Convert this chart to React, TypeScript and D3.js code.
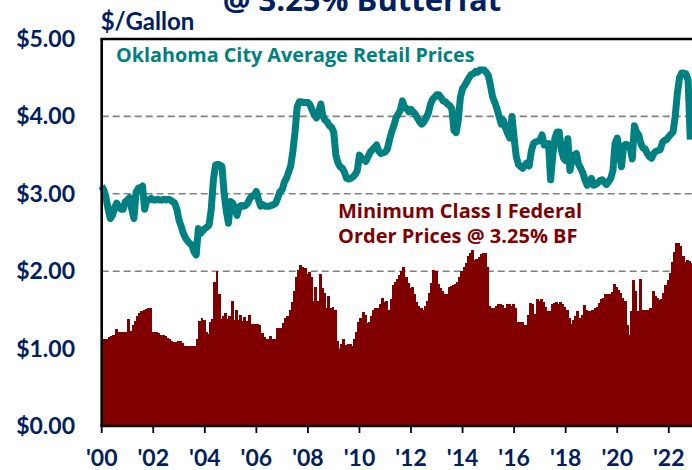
import * as d3 from 'd3';
import { useRef, useEffect } from 'react';

// months counted from Jan 2000
const yearTicks = [2000, 2002, 2004, 2006, 2008, 2010, 2012, 2014, 2016, 2018, 2020, 2022];
const priceTicks = [0, 1, 2, 3, 4, 5];
const gridPrices = [1, 2, 3, 4];

// Minimum Class I Federal Order price @ 3.25% BF, $/gallon, monthly
const classIPrices = [
    1.12, 1.12, 1.12, 1.15, 1.16, 1.18, 1.25, 1.22, 1.21, 1.21, 1.21, 1.22, // 2000
    1.38, 1.23, 1.30, 1.36, 1.42, 1.46, 1.49, 1.50, 1.51, 1.53, 1.53, 1.21, // 2001
    1.21, 1.21, 1.20, 1.18, 1.17, 1.16, 1.14, 1.12, 1.10, 1.09, 1.09, 1.10, // 2002
    1.10, 1.07, 1.04, 1.03, 1.03, 1.03, 1.03, 1.03, 1.13, 1.36, 1.39, 1.37, // 2003
    1.21, 1.19, 1.34, 1.38, 1.86, 2.00, 1.70, 1.38, 1.42, 1.46, 1.38, 1.42, // 2004
    1.62, 1.37, 1.50, 1.37, 1.43, 1.36, 1.41, 1.36, 1.43, 1.32, 1.32, 1.32, // 2005
    1.32, 1.30, 1.20, 1.15, 1.13, 1.12, 1.16, 1.12, 1.12, 1.26, 1.26, 1.26, // 2006
    1.33, 1.40, 1.42, 1.50, 1.60, 1.74, 1.92, 2.02, 2.08, 2.06, 2.04, 1.97, // 2007
    1.99, 1.92, 1.62, 1.80, 1.62, 1.97, 1.78, 1.72, 1.52, 1.68, 1.52, 1.54, // 2008
    1.50, 1.10, 1.00, 1.06, 1.13, 1.05, 1.06, 1.06, 1.04, 1.12, 1.22, 1.34, // 2009
    1.40, 1.47, 1.44, 1.33, 1.34, 1.42, 1.50, 1.53, 1.53, 1.57, 1.65, 1.60, // 2010
    1.62, 1.50, 1.64, 1.82, 1.86, 1.90, 1.95, 2.00, 2.05, 1.92, 1.85, 1.78, // 2011
    1.80, 1.70, 1.60, 1.55, 1.53, 1.50, 1.55, 1.62, 1.72, 1.85, 2.02, 2.00, // 2012
    1.84, 1.78, 1.74, 1.71, 1.70, 1.80, 1.81, 1.82, 1.83, 1.86, 1.92, 2.00, // 2013
    2.06, 2.10, 2.20, 2.23, 2.27, 2.14, 2.16, 2.18, 2.22, 2.23, 2.23, 2.05, // 2014
    1.55, 1.53, 1.53, 1.55, 1.57, 1.58, 1.56, 1.53, 1.57, 1.58, 1.55, 1.58, // 2015
    1.53, 1.35, 1.35, 1.34, 1.30, 1.31, 1.44, 1.59, 1.58, 1.45, 1.64, 1.62, // 2016
    1.64, 1.60, 1.54, 1.49, 1.48, 1.57, 1.59, 1.60, 1.58, 1.60, 1.58, 1.54, // 2017
    1.50, 1.40, 1.32, 1.37, 1.42, 1.48, 1.40, 1.44, 1.56, 1.50, 1.49, 1.49, // 2018
    1.50, 1.52, 1.54, 1.59, 1.64, 1.66, 1.70, 1.70, 1.71, 1.73, 1.83, 1.79, // 2019
    1.76, 1.72, 1.65, 1.62, 1.30, 1.18, 1.48, 1.89, 1.75, 1.49, 1.90, 1.50, // 2020
    1.50, 1.50, 1.50, 1.52, 1.75, 1.68, 1.65, 1.63, 1.64, 1.72, 1.82, 1.88, // 2021
    1.98, 2.12, 2.25, 2.36, 2.37, 2.32, 2.20, 2.12, 2.14, 2.13, 2.10,       // 2022
];

// Oklahoma City average retail price, $/gallon, monthly
const retailPrices = [
    3.10, 3.05, 2.95, 2.80, 2.68, 2.72, 2.82, 2.88, 2.82, 2.80, 2.80, 2.90, // 2000
    2.92, 2.95, 2.80, 2.68, 3.02, 3.07, 3.08, 3.10, 2.80, 2.92, 2.92, 2.94, // 2001
    2.92, 2.92, 2.93, 2.92, 2.92, 2.93, 2.92, 2.93, 2.92, 2.90, 2.88, 2.80, // 2002
    2.66, 2.58, 2.49, 2.43, 2.39, 2.36, 2.34, 2.25, 2.21, 2.55, 2.49, 2.52, // 2003
    2.55, 2.57, 2.60, 2.80, 3.18, 3.37, 3.38, 3.37, 3.35, 3.00, 2.78, 2.62, // 2004
    2.90, 2.88, 2.80, 2.72, 2.83, 2.85, 2.84, 2.85, 2.88, 2.94, 2.97, 2.98, // 2005
    3.03, 2.92, 2.84, 2.86, 2.84, 2.84, 2.84, 2.85, 2.86, 2.88, 2.95, 3.03, // 2006
    3.05, 3.15, 3.20, 3.28, 3.36, 3.55, 3.80, 4.12, 4.19, 4.19, 4.18, 4.18, // 2007
    4.18, 4.15, 4.08, 4.02, 3.98, 4.05, 4.16, 4.00, 3.95, 3.93, 3.88, 3.86, // 2008
    3.80, 3.50, 3.40, 3.35, 3.33, 3.28, 3.20, 3.19, 3.20, 3.22, 3.25, 3.30, // 2009
    3.50, 3.46, 3.44, 3.42, 3.48, 3.54, 3.57, 3.60, 3.63, 3.55, 3.52, 3.53, // 2010
    3.54, 3.58, 3.70, 3.80, 3.88, 3.98, 4.03, 4.08, 4.20, 4.12, 4.10, 4.06, // 2011
    4.09, 4.06, 4.03, 3.98, 3.93, 3.90, 3.93, 3.98, 4.04, 4.15, 4.22, 4.25, // 2012
    4.28, 4.28, 4.24, 4.20, 4.19, 4.16, 4.14, 4.10, 3.82, 3.79, 3.95, 4.25, // 2013
    4.36, 4.40, 4.45, 4.50, 4.54, 4.55, 4.58, 4.57, 4.60, 4.60, 4.60, 4.57, // 2014
    4.53, 4.40, 4.25, 4.18, 4.10, 4.00, 3.90, 3.95, 3.85, 3.78, 3.72, 4.00, // 2015
    3.72, 3.48, 3.38, 3.35, 3.33, 3.37, 3.40, 3.36, 3.55, 3.65, 3.67, 3.68, // 2016
    3.69, 3.76, 3.63, 3.64, 3.65, 3.18, 3.50, 3.72, 3.80, 3.80, 3.57, 3.46, // 2017
    3.43, 3.71, 3.30, 3.45, 3.50, 3.52, 3.38, 3.33, 3.27, 3.18, 3.11, 3.16, // 2018
    3.20, 3.11, 3.12, 3.14, 3.17, 3.18, 3.15, 3.12, 3.16, 3.20, 3.30, 3.65, // 2019
    3.72, 3.55, 3.35, 3.62, 3.64, 3.63, 3.60, 3.45, 3.88, 3.80, 3.76, 3.65, // 2020
    3.59, 3.58, 3.52, 3.48, 3.46, 3.52, 3.55, 3.56, 3.57, 3.66, 3.69, 3.70, // 2021
    3.74, 3.77, 3.80, 4.00, 4.30, 4.50, 4.56, 4.56, 4.55, 4.47, 3.70,       // 2022
];

const NAVY = '#002060';
const TEAL = '#008080';
const MAROON = '#800000';
const FONT = 'Lato, "Open Sans", sans-serif';
const WIDE_FONT = '"Open Sans", Lato, sans-serif';

function MilkPriceChart({ width = 692, height = 470 }) {
    const svgRef = useRef(null);

    useEffect(() => {
        const svg = d3.select(svgRef.current)
            .attr('width', width)
            .attr('height', height);
        svg.selectAll('*').remove();

        const left = 101.7;
        const top = 39;
        const bottom = 426;

        // x in months since Jan 2000
        const x = d3.scaleLinear().domain([0, 276]).range([left, left + 2.148 * 276]);
        const y = d3.scaleLinear().domain([0, 5]).range([bottom, top]);

        // Title (only its last line is in view)
        svg.append('text')
            .attr('x', 362)
            .attr('y', 11)
            .attr('text-anchor', 'middle')
            .attr('font-family', WIDE_FONT)
            .attr('font-weight', 'bold')
            .attr('font-size', 31)
            .attr('fill', NAVY)
            .text('@ 3.25% Butterfat');

        svg.append('text')
            .attr('x', left - 1)
            .attr('y', 30)
            .attr('font-family', FONT)
            .attr('font-weight', 'bold')
            .attr('font-size', 24)
            .attr('fill', NAVY)
            .text('$/Gallon');

        // Gridlines
        svg.append('g')
            .selectAll('line')
            .data(gridPrices)
            .enter()
            .append('line')
            .attr('x1', left)
            .attr('x2', width)
            .attr('y1', d => y(d))
            .attr('y2', d => y(d))
            .attr('stroke', '#808080')
            .attr('stroke-width', 1.6)
            .attr('stroke-dasharray', '7,4');

        // Class I bars
        svg.append('g')
            .attr('shape-rendering', 'crispEdges')
            .selectAll('rect')
            .data(classIPrices)
            .enter()
            .append('rect')
            .attr('x', (d, i) => x(i))
            .attr('width', (d, i) => x(i + 1) - x(i) + 0.8)
            .attr('y', d => y(d))
            .attr('height', d => y(0) - y(d))
            .attr('fill', MAROON);

        // Retail line
        const line = d3.line()
            .x((d, i) => x(i))
            .y(d => y(d));

        svg.append('path')
            .datum(retailPrices)
            .attr('d', line)
            .attr('fill', 'none')
            .attr('stroke', TEAL)
            .attr('stroke-width', 7)
            .attr('stroke-linejoin', 'round');

        // Frame / axes
        svg.append('line')
            .attr('x1', left - 1.3).attr('x2', width + 10)
            .attr('y1', top).attr('y2', top)
            .attr('stroke', 'black').attr('stroke-width', 2.6);
        svg.append('line')
            .attr('x1', left).attr('x2', left)
            .attr('y1', top).attr('y2', bottom)
            .attr('stroke', 'black').attr('stroke-width', 2.6);
        svg.append('line')
            .attr('x1', left - 1.3).attr('x2', width + 10)
            .attr('y1', bottom).attr('y2', bottom)
            .attr('stroke', 'black').attr('stroke-width', 2.6);

        // X ticks and labels
        const xt = svg.append('g')
            .selectAll('g')
            .data(yearTicks)
            .enter()
            .append('g')
            .attr('transform', d => `translate(${x((d - 2000) * 12)},0)`);
        xt.append('line')
            .attr('y1', bottom)
            .attr('y2', bottom + 7)
            .attr('stroke', 'black')
            .attr('stroke-width', 1.8);
        xt.append('text')
            .attr('y', 466)
            .attr('text-anchor', 'middle')
            .attr('font-family', FONT)
            .attr('font-weight', 'bold')
            .attr('font-size', 23)
            .attr('fill', NAVY)
            .text(d => `'${String(d % 100).padStart(2, '0')}`);

        // Y labels
        svg.append('g')
            .selectAll('text')
            .data(priceTicks)
            .enter()
            .append('text')
            .attr('x', 75)
            .attr('y', d => y(d))
            .attr('dy', '0.35em')
            .attr('text-anchor', 'end')
            .attr('font-family', FONT)
            .attr('font-weight', 'bold')
            .attr('font-size', 23)
            .attr('fill', NAVY)
            .text(d => d3.format('$.2f')(d));

        // Series labels
        svg.append('text')
            .attr('x', 116)
            .attr('y', 62)
            .attr('font-family', WIDE_FONT)
            .attr('font-weight', 'bold')
            .attr('font-size', 19.8)
            .attr('fill', TEAL)
            .text('Oklahoma City Average Retail Prices');

        const lbl = svg.append('text')
            .attr('font-family', WIDE_FONT)
            .attr('font-weight', 'bold')
            .attr('font-size', 20)
            .attr('fill', MAROON);
        lbl.append('tspan').attr('x', 338).attr('y', 218).text('Minimum Class I Federal');
        lbl.append('tspan').attr('x', 338).attr('y', 243).text('Order Prices @ 3.25% BF');
    }, [width, height]);

    return (
        <svg
            ref={svgRef}
            style={{ position: 'absolute', left: 0, top: 0, display: 'block', background: 'white' }}
        ></svg>
    );
}

export default function App() {
    return <MilkPriceChart />;
}
